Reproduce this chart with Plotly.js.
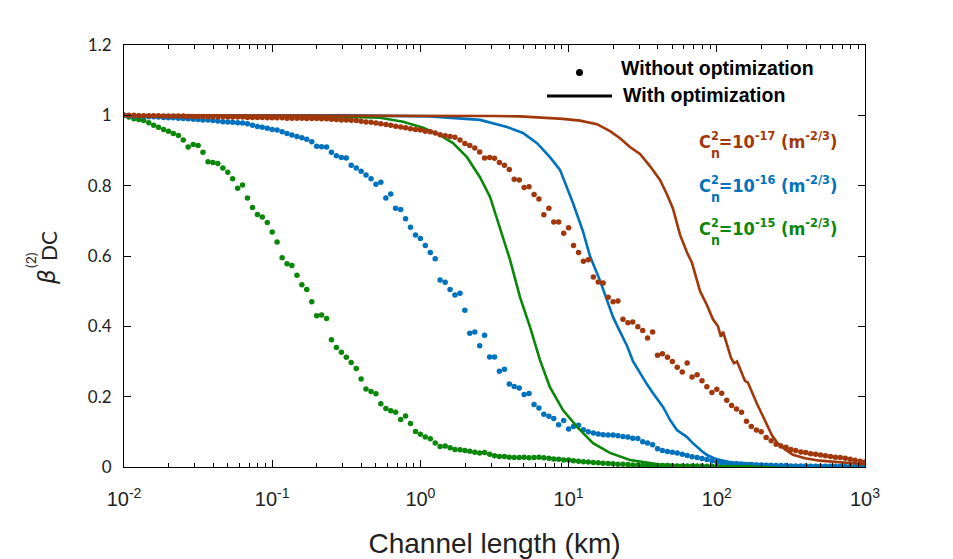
<!DOCTYPE html>
<html>
<head>
<meta charset="utf-8">
<script src="https://cdn.plot.ly/plotly-3.0.1.min.js"></script>
<style>
  html, body { margin: 0; padding: 0; background: #fff; }
  #chart { width: 953px; height: 559px; }
</style>
</head>
<body>
<div id="chart"></div>
<script>
// ---- data ----
// sample grid of the dotted (no optimization) curves, log10 of channel length in km
const logLengthKm = [
  -2.000,-1.967,-1.933,-1.900,-1.867,-1.833,-1.800,-1.767,-1.733,-1.700,-1.667,-1.633,-1.600,-1.567,-1.533,
  -1.500,-1.467,-1.433,-1.400,-1.367,-1.333,-1.300,-1.267,-1.233,-1.200,-1.167,-1.133,-1.100,-1.067,-1.033,
  -1.000,-0.967,-0.933,-0.900,-0.867,-0.833,-0.800,-0.767,-0.733,-0.700,-0.667,-0.633,-0.600,-0.567,-0.533,
  -0.500,-0.467,-0.433,-0.400,-0.367,-0.333,-0.300,-0.267,-0.233,-0.200,-0.167,-0.133,-0.100,-0.067,-0.033,
  0.000,0.033,0.067,0.100,0.133,0.167,0.200,0.233,0.267,0.300,0.333,0.367,0.400,0.433,0.467,
  0.500,0.533,0.567,0.600,0.633,0.667,0.700,0.733,0.767,0.800,0.833,0.867,0.900,0.933,0.967,
  1.000,1.033,1.067,1.100,1.133,1.167,1.200,1.233,1.267,1.300,1.333,1.367,1.400,1.433,1.467,
  1.500,1.533,1.567,1.600,1.633,1.667,1.700,1.733,1.767,1.800,1.833,1.867,1.900,1.933,1.967,
  2.000,2.033,2.067,2.100,2.133,2.167,2.200,2.233,2.267,2.300,2.333,2.367,2.400,2.433,2.467,
  2.500,2.533,2.567,2.600,2.633,2.667,2.700,2.733,2.767,2.800,2.833,2.867,2.900,2.933,2.967,
  3.000
];

// Cn2 = 1e-17, without optimization
const betaNoOpt17 = [
  1.000,1.000,1.000,0.999,0.999,0.999,0.999,0.999,0.998,0.998,
  0.998,0.998,0.998,0.997,0.997,0.997,0.997,0.996,0.996,0.996,
  0.996,0.995,0.995,0.995,0.995,0.994,0.994,0.994,0.994,0.993,
  0.993,0.993,0.993,0.992,0.992,0.992,0.992,0.991,0.991,0.991,
  0.990,0.990,0.989,0.988,0.987,0.987,0.986,0.985,0.983,0.981,
  0.980,0.978,0.976,0.974,0.972,0.969,0.967,0.965,0.962,0.960,
  0.958,0.955,0.953,0.950,0.945,0.942,0.940,0.938,0.930,0.920,
  0.914,0.907,0.896,0.879,0.880,0.878,0.866,0.858,0.846,0.818,
  0.816,0.795,0.797,0.775,0.762,0.717,0.736,0.697,0.697,0.665,
  0.680,0.630,0.610,0.585,0.589,0.540,0.526,0.523,0.483,0.470,
  0.472,0.420,0.410,0.412,0.399,0.388,0.367,0.384,0.318,0.322,
  0.312,0.300,0.284,0.270,0.296,0.256,0.262,0.245,0.228,0.212,
  0.221,0.210,0.190,0.175,0.165,0.156,0.130,0.115,0.105,0.100,
  0.084,0.075,0.065,0.060,0.056,0.050,0.047,0.043,0.041,0.038,
  0.036,0.034,0.032,0.030,0.028,0.027,0.025,0.022,0.019,0.016,0.014
];

// Cn2 = 1e-16, without optimization
const betaNoOpt16 = [
  1.000,0.999,0.998,0.998,0.997,0.996,0.996,0.995,0.994,0.993,
  0.993,0.992,0.991,0.990,0.989,0.988,0.987,0.987,0.985,0.984,
  0.982,0.981,0.980,0.979,0.978,0.976,0.972,0.968,0.966,0.963,
  0.960,0.958,0.953,0.948,0.944,0.940,0.936,0.932,0.925,0.912,
  0.911,0.910,0.895,0.885,0.880,0.879,0.858,0.850,0.841,0.830,
  0.820,0.804,0.810,0.765,0.776,0.736,0.732,0.706,0.682,0.660,
  0.650,0.630,0.610,0.592,0.532,0.525,0.505,0.489,0.494,0.446,
  0.380,0.384,0.345,0.375,0.313,0.313,0.272,0.278,0.236,0.229,
  0.225,0.206,0.209,0.178,0.168,0.150,0.144,0.138,0.120,0.132,
  0.108,0.115,0.119,0.106,0.100,0.097,0.094,0.092,0.091,0.091,
  0.089,0.087,0.085,0.082,0.081,0.072,0.068,0.063,0.052,0.047,
  0.044,0.042,0.040,0.036,0.033,0.029,0.027,0.024,0.021,0.018,
  0.015,0.013,0.011,0.010,0.009,0.008,0.007,0.007,0.006,0.006,
  0.005,0.005,0.004,0.004,0.004,0.003,0.003,0.003,0.003,0.002,
  0.002,0.002,0.002,0.002,0.002,0.002,0.001,0.001,0.001,0.001,0.001
];

// Cn2 = 1e-15, without optimization
const betaNoOpt15 = [
  1.000,0.995,0.990,0.988,0.985,0.979,0.972,0.966,0.960,0.955,
  0.948,0.943,0.930,0.910,0.917,0.914,0.895,0.868,0.866,0.863,
  0.850,0.838,0.820,0.793,0.802,0.765,0.738,0.718,0.711,0.695,
  0.668,0.640,0.595,0.578,0.573,0.545,0.518,0.505,0.470,0.430,
  0.432,0.422,0.362,0.340,0.326,0.312,0.297,0.280,0.250,0.222,
  0.215,0.208,0.180,0.166,0.160,0.156,0.135,0.145,0.124,0.101,
  0.093,0.085,0.080,0.068,0.058,0.060,0.055,0.050,0.049,0.047,
  0.045,0.042,0.040,0.041,0.036,0.032,0.030,0.030,0.028,0.027,
  0.027,0.028,0.026,0.027,0.028,0.026,0.025,0.023,0.022,0.020,
  0.020,0.018,0.016,0.015,0.014,0.013,0.012,0.011,0.010,0.009,
  0.008,0.008,0.007,0.006,0.006,0.005,0.005,0.004,0.004,0.004,
  0.004,0.003,0.003,0.003,0.003,0.003,0.003,0.003,0.002,0.002,
  0.002,0.002,0.002,0.002,0.002,0.002,0.002,0.002,0.002,0.002,
  0.002,0.002,0.001,0.001,0.001,0.001,0.001,0.001,0.001,0.001,
  0.001,0.001,0.001,0.001,0.001,0.001,0.001,0.001,0.001,0.001,0.001
];

// with optimization: [log10(km), beta]
const betaOpt17 = [
  [-2.0,1.0],[-1.0,1.0],[0.0,0.999],[0.5,0.998],[0.672,0.997],[0.962,0.99],[1.077,0.985],
  [1.192,0.975],[1.279,0.955],[1.347,0.935],[1.414,0.91],[1.482,0.89],[1.55,0.855],[1.617,0.816],
  [1.664,0.775],[1.704,0.735],[1.752,0.66],[1.799,0.61],[1.833,0.58],[1.887,0.50],[1.934,0.46],
  [1.974,0.42],[2.008,0.40],[2.028,0.37],[2.042,0.385],[2.069,0.35],[2.096,0.31],[2.116,0.295],
  [2.136,0.30],[2.156,0.28],[2.19,0.245],[2.21,0.24],[2.238,0.21],[2.271,0.18],[2.305,0.15],
  [2.339,0.12],[2.372,0.09],[2.406,0.07],[2.46,0.05],[2.514,0.035],[2.595,0.025],[2.696,0.018],
  [2.852,0.012],[3.0,0.008]
];
const betaOpt16 = [
  [-2.0,1.0],[-0.5,1.0],[0.065,0.997],[0.402,0.987],[0.584,0.967],[0.692,0.95],[0.787,0.921],
  [0.874,0.881],[0.942,0.845],[0.962,0.824],[1.03,0.75],[1.097,0.67],[1.144,0.60],[1.212,0.53],
  [1.259,0.475],[1.30,0.426],[1.347,0.385],[1.394,0.345],[1.435,0.30],[1.482,0.267],[1.529,0.235],
  [1.57,0.21],[1.603,0.19],[1.637,0.171],[1.664,0.15],[1.684,0.134],[1.731,0.105],[1.799,0.085],
  [1.833,0.07],[1.866,0.057],[1.9,0.045],[1.934,0.034],[1.981,0.025],[2.022,0.02],[2.103,0.013],
  [2.177,0.011],[2.29,0.007],[2.406,0.005],[2.63,0.003],[3.0,0.001]
];
const betaOpt15 = [
  [-2.0,1.0],[-1.0,1.0],[-0.61,0.997],[-0.273,0.993],[-0.117,0.982],[0.018,0.965],[0.132,0.944],
  [0.22,0.921],[0.314,0.881],[0.402,0.824],[0.47,0.768],[0.537,0.682],[0.605,0.589],[0.672,0.483],
  [0.74,0.398],[0.807,0.304],[0.874,0.227],[0.962,0.162],[1.057,0.114],[1.165,0.068],[1.279,0.040],
  [1.414,0.020],[1.617,0.007],[1.887,0.003],[2.29,0.001],[3.0,0.0]
];

const lengthTicks = [0.01, 0.1, 1, 10, 100, 1000];
const lengthTickText = ['10<sup>-2</sup>', '10<sup>-1</sup>', '10<sup>0</sup>', '10<sup>1</sup>', '10<sup>2</sup>', '10<sup>3</sup>'];
const cn2Exponents = ['-17', '-16', '-15'];
const legendTexts = ['Without optimization', 'With optimization'];

// ---- style ----
const BROWN = '#A0380C';
const BLUE = '#0072BD';
const GREEN = '#0A870A';
const seriesColors = [BROWN, BLUE, GREEN];

// plot box in pixels (used for legend / label placement)
const BOX = { l: 124, r: 865, t: 45, b: 467 };
const px = x => (x - BOX.l) / (BOX.r - BOX.l);
const py = y => (BOX.b - y) / (BOX.b - BOX.t);

const toKm = v => Math.pow(10, v);

function dotTrace(beta, color) {
    return {
        x: logLengthKm.map(toKm), y: beta,
        type: 'scatter', mode: 'markers',
        marker: { color, size: 5.5, line: { width: 0 } },
        showlegend: false, hoverinfo: 'skip'
    };
}

function lineTrace(pts, color) {
    return {
        x: pts.map(p => toKm(p[0])), y: pts.map(p => p[1]),
        type: 'scatter', mode: 'lines',
        line: { color, width: 2.6 },
        showlegend: false, hoverinfo: 'skip'
    };
}

const traces = [
    dotTrace(betaNoOpt15, GREEN),
    dotTrace(betaNoOpt16, BLUE),
    lineTrace(betaOpt15, GREEN),
    lineTrace(betaOpt16, BLUE),
    dotTrace(betaNoOpt17, BROWN),
    lineTrace(betaOpt17, BROWN)
];

// minor ticks 2..9 in every decade (axis styling)
const minorTicks = [];
for (let d = -2; d < 3; d++) {
    for (let m = 2; m <= 9; m++) minorTicks.push(m * Math.pow(10, d));
}

const labelFont = 'DejaVu Sans Condensed, DejaVu Sans, sans-serif';
const annotations = [];

// y axis label: beta^(2)_DC, pieces stacked by hand
annotations.push(
    { text: '<i>β</i>', x: px(47), y: py(277), xref: 'paper', yref: 'paper', showarrow: false,
      xanchor: 'center', yanchor: 'middle',
      textangle: -90, font: { family: 'DejaVu Sans', size: 23, color: '#222' } },
    { text: '(2)', x: px(30), y: py(260), xref: 'paper', yref: 'paper', showarrow: false,
      xanchor: 'center', yanchor: 'middle',
      textangle: -90, font: { family: 'Lato, DejaVu Sans', size: 14, color: '#222' } },
    { text: 'DC', x: px(48), y: py(246), xref: 'paper', yref: 'paper', showarrow: false,
      xanchor: 'center', yanchor: 'middle',
      textangle: -90, font: { family: 'Lato, DejaVu Sans', size: 21, color: '#222' } }
);

// Cn2 labels
const rowY = [143, 187, 230];
cn2Exponents.forEach((e, i) => {
    const c = seriesColors[i];
    annotations.push(
        { text: 'C<sup>2</sup>=10<sup>' + e + '</sup> (m<sup>-2/3</sup>)',
          x: px(697), y: py(rowY[i] - 3), xref: 'paper', yref: 'paper', xanchor: 'left', yanchor: 'middle',
          showarrow: false, font: { family: labelFont, size: 18, color: c, weight: 'bold' } },
        { text: 'n', x: px(715), y: py(rowY[i] + 10), xref: 'paper', yref: 'paper', xanchor: 'center', yanchor: 'middle',
          showarrow: false, font: { family: labelFont, size: 14, color: c, weight: 'bold' } }
    );
});

// legend texts
annotations.push(
    { text: legendTexts[0], x: px(619), y: py(68), xref: 'paper', yref: 'paper', xanchor: 'left', yanchor: 'middle',
      showarrow: false, font: { family: 'Liberation Sans, Arial, sans-serif', size: 19.5, color: '#000', weight: 'bold' } },
    { text: legendTexts[1], x: px(621), y: py(95), xref: 'paper', yref: 'paper', xanchor: 'left', yanchor: 'middle',
      showarrow: false, font: { family: 'Liberation Sans, Arial, sans-serif', size: 19.5, color: '#000', weight: 'bold' } }
);

const shapes = [
    { type: 'circle', xref: 'paper', yref: 'paper', x0: px(576), x1: px(583), y0: py(76), y1: py(69),
      fillcolor: '#000', line: { width: 0 } },
    { type: 'line', xref: 'paper', yref: 'paper', x0: px(547), x1: px(612), y0: py(96), y1: py(96),
      line: { color: '#000', width: 3 } }
];

const axisFont = 'Liberation Sans Narrow, Liberation Sans, Arial, sans-serif';

const layout = {
    width: 953, height: 559,
    margin: { l: BOX.l, r: 953 - BOX.r, t: BOX.t, b: 559 - BOX.b },
    paper_bgcolor: '#fff', plot_bgcolor: '#fff',
    showlegend: false,
    xaxis: {
        type: 'log', range: [-2, 3],
        tickmode: 'array', tickvals: lengthTicks, ticktext: lengthTickText,
        ticks: 'inside', ticklen: 7, tickcolor: '#000', tickwidth: 1,
        minor: { tickmode: 'array', tickvals: minorTicks, ticks: 'inside', ticklen: 4, tickcolor: '#000', tickwidth: 1 },
        showline: true, linecolor: '#000', linewidth: 1, mirror: 'ticks',
        showgrid: false, zeroline: false,
        tickfont: { family: axisFont, size: 20, color: '#222' },
        ticklabelstandoff: 14,
        title: { text: 'Channel length (km)', font: { family: axisFont, size: 28, color: '#222' }, standoff: 26 }
    },
    yaxis: {
        range: [0, 1.2], tickmode: 'linear', tick0: 0, dtick: 0.2,
        ticks: 'inside', ticklen: 7, tickcolor: '#000', tickwidth: 1,
        showline: true, linecolor: '#000', linewidth: 1, mirror: 'ticks',
        showgrid: false, zeroline: false,
        tickfont: { family: 'Lato, sans-serif', size: 17, color: '#222' },
        ticklabelstandoff: 8
    },
    annotations,
    shapes
};

Plotly.newPlot('chart', traces, layout, { displayModeBar: false, staticPlot: true });
</script>
</body>
</html>
